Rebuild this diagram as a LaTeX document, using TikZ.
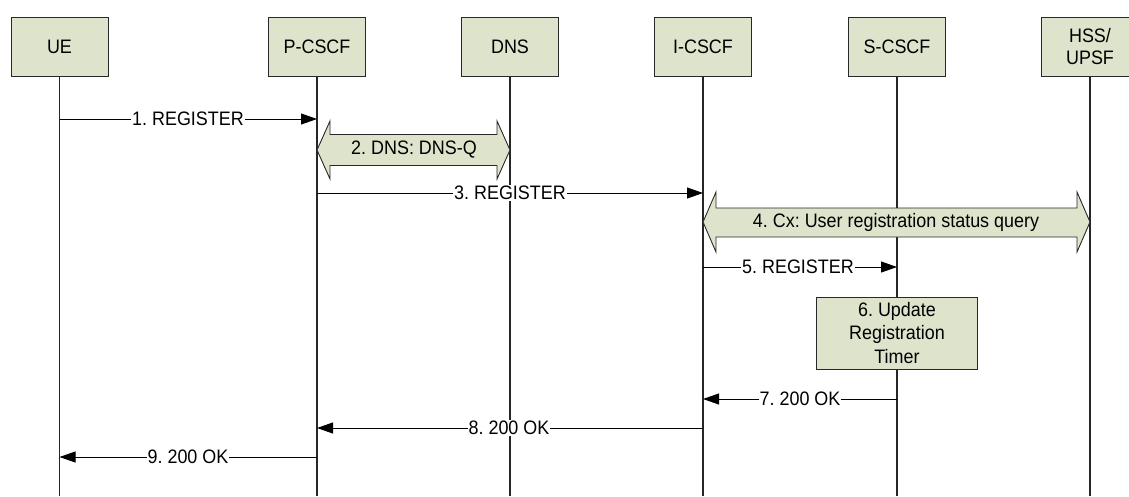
\documentclass[tikz,border=0pt]{standalone}
\usepackage{fontspec}
\setmainfont[FakeStretch=0.92]{Liberation Sans}
\usetikzlibrary{arrows.meta}
\definecolor{boxfill}{RGB}{222,227,204}
\definecolor{boxline}{RGB}{40,40,40}
\frenchspacing
\tikzset{
  entity/.style={draw=boxline, line width=0.9pt, fill=boxfill, minimum width=97pt, minimum height=59pt, inner sep=0pt, align=center, font=\fontsize{19.5}{22}\selectfont},
  lifeline/.style={line width=1.4pt, black!85},
  msg/.style={line width=0.9pt, -{Triangle[length=16pt,width=11pt]}},
  msglabel/.style={fill=white, inner sep=1pt, font=\fontsize{19.5}{22}\selectfont},
  blockarrow/.style={draw=boxline, line width=0.9pt, fill=boxfill},
  blocklabel/.style={inner sep=0pt, font=\fontsize{19.5}{22}\selectfont},
  procbox/.style={draw=boxline, line width=0.9pt, fill=boxfill, minimum width=161pt, minimum height=72pt, inner sep=0pt, align=center, font=\fontsize{19.5}{23.5}\selectfont}
}
\begin{document}
\begin{tikzpicture}[x=1pt,y=-1pt]
\useasboundingbox (0,0) rectangle (1129,496);
\clip (0,0) rectangle (1129,496);
% entities
\node[entity] (ue) at (59.5,46.5) {UE};
\node[entity] (pcscf) at (317,46.5) {P-CSCF};
\node[entity] (dns) at (510,46.5) {DNS};
\node[entity] (icscf) at (703,46.5) {I-CSCF};
\node[entity] (scscf) at (897,46.5) {S-CSCF};
\node[entity] (hss) at (1090,46.5) {HSS/\\UPSF};
% lifeline ends
\coordinate (ueE) at (59.5,496);
\coordinate (pcscfE) at (317,496);
\coordinate (dnsE) at (510,496);
\coordinate (icscfE) at (703,496);
\coordinate (scscfE) at (897,496);
\coordinate (hssE) at (1090,496);
\draw[lifeline] (ue.south) -- (ueE);
\draw[lifeline] (pcscf.south) -- (pcscfE);
\draw[lifeline] (dns.south) -- (dnsE);
\draw[lifeline] (icscf.south) -- (icscfE);
\draw[lifeline] (scscf.south) -- (scscfE);
\draw[lifeline] (hss.south) -- (hssE);
% message endpoints
\coordinate (m1a) at (59.5,119); \coordinate (m1b) at (317,119);
\coordinate (m3a) at (317,193); \coordinate (m3b) at (703,193);
\coordinate (m5a) at (703,267); \coordinate (m5b) at (897,267);
\coordinate (m7a) at (897,399); \coordinate (m7b) at (703,399);
\coordinate (m8a) at (703,428); \coordinate (m8b) at (317,428);
\coordinate (m9a) at (317,457); \coordinate (m9b) at (59.5,457);
% 1
\draw[msg] (m1a) -- (m1b);
\node[msglabel] (l1) at (188,119) {1. REGISTER};
% 2
\draw[blockarrow] (317,150) -- (330,121) -- (330,134.5) -- (497,134.5) -- (497,121) -- (510,150) -- (497,179) -- (497,165.5) -- (330,165.5) -- (330,179) -- cycle;
\node[blocklabel] (l2) at (414,150) {2. DNS: DNS-Q};
% 3
\draw[msg] (m3a) -- (m3b);
\node[msglabel] (l3) at (510,193) {3. REGISTER};
% 4
\draw[blockarrow] (703,222) -- (716,192) -- (716,208) -- (1077,208) -- (1077,192) -- (1090,222) -- (1077,252) -- (1077,237) -- (716,237) -- (716,252) -- cycle;
\node[blocklabel] (l4) at (896,222) {4. Cx: User registration status query};
% 5
\draw[msg] (m5a) -- (m5b);
\node[msglabel] (l5) at (798,267) {5. REGISTER};
% 6
\node[procbox] (p6) at (897,333) {6. Update\\Registration\\Timer};
% 7
\draw[msg] (m7a) -- (m7b);
\node[msglabel] (l7) at (800,399) {7. 200 OK};
% 8
\draw[msg] (m8a) -- (m8b);
\node[msglabel] (l8) at (509,428) {8. 200 OK};
% 9
\draw[msg] (m9a) -- (m9b);
\node[msglabel] (l9) at (188,457) {9. 200 OK};
\end{tikzpicture}
\end{document}
